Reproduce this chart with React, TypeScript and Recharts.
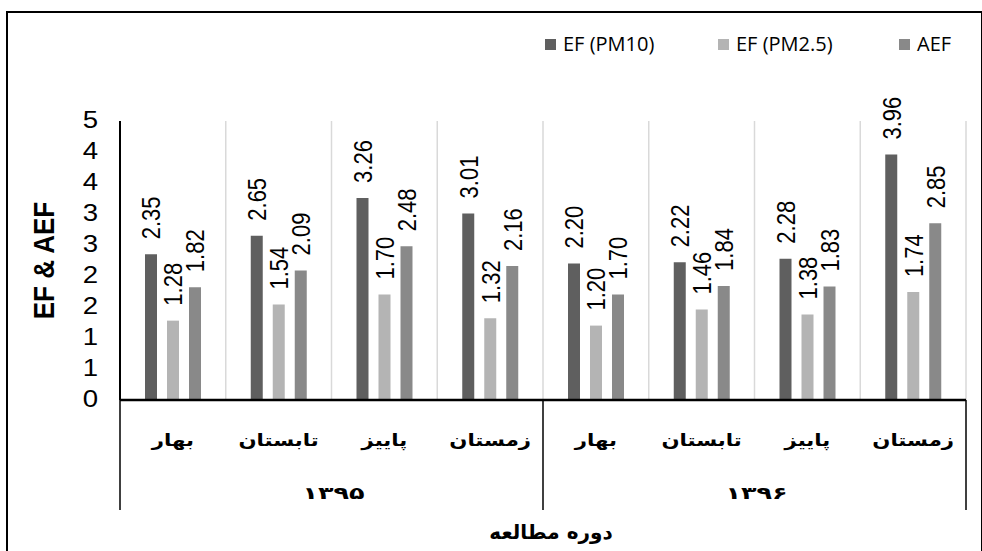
import { Bar, BarChart, CartesianGrid, LabelList, XAxis, YAxis } from "recharts";

const seasons = ["بهار", "تابستان", "پاییز", "زمستان", "بهار", "تابستان", "پاییز", "زمستان"];
const years = ["۱۳۹۵", "۱۳۹۵", "۱۳۹۵", "۱۳۹۵", "۱۳۹۶", "۱۳۹۶", "۱۳۹۶", "۱۳۹۶"];
const efPm10 = [2.35, 2.65, 3.26, 3.01, 2.2, 2.22, 2.28, 3.96];
const efPm25 = [1.28, 1.54, 1.7, 1.32, 1.2, 1.46, 1.38, 1.74];
const aef = [1.82, 2.09, 2.48, 2.16, 1.7, 1.84, 1.83, 2.85];
const yTicks = [0, 0.5, 1, 1.5, 2, 2.5, 3, 3.5, 4, 4.5];

const seriesNames = ["EF (PM10)", "EF (PM2.5)", "AEF"];
const seriesKeys = ["pm10", "pm25", "aef"];
const seriesColors = ["#5f5f5f", "#b4b4b4", "#898989"];

const yTitle = "EF & AEF";
const xTitle = "دوره مطالعه";

const data = seasons.map((s, i) => ({
  season: s,
  year: years[i],
  pm10: efPm10[i],
  pm25: efPm25[i],
  aef: aef[i],
}));

const W = 982;
const H = 551;
const margin = { top: 121, right: 16, bottom: 41, left: 0 };
const yAxisWidth = 120;
const xAxisHeight = 110;
const plotWidth = W - margin.left - margin.right - yAxisWidth;
const band = plotWidth / seasons.length;
const groupSize = 4;

const YTick = (props: any) => {
  const { x, y, payload } = props;
  return (
    <text
      transform={`translate(${x},${y - 1}) scale(1.2,1)`}
      textAnchor="end"
      dy="0.36em"
      fontSize={23}
      fill="#000"
      fontFamily="'Liberation Sans', Arial, sans-serif"
    >
      {Math.round(payload.value)}
    </text>
  );
};

const XTick = (props: any) => {
  const { x, y, payload, index } = props;
  const last = seasons.length - 1;
  return (
    <g>
      <text
        transform={`translate(${x},${y + 40}) scale(1.25,1)`}
        textAnchor="middle"
        dy="0.35em"
        fontSize={17}
        fontWeight="bold"
        fill="#000"
        fontFamily="'DejaVu Sans', sans-serif"
      >
        {payload.value}
      </text>
      {index % groupSize === 0 ? (
        <line x1={x - band / 2} x2={x - band / 2} y1={y} y2={y + xAxisHeight} stroke="#000" strokeWidth={1.5} />
      ) : null}
      {index === last ? (
        <line x1={x + band / 2} x2={x + band / 2} y1={y} y2={y + xAxisHeight} stroke="#000" strokeWidth={1.5} />
      ) : null}
      {index % groupSize === 1 ? (
        <text
          transform={`translate(${x + band / 2 + 2},${y + 93}) scale(1.5,1)`}
          textAnchor="middle"
          dy="0.35em"
          fontSize={17}
          fontWeight="bold"
          fill="#000"
          fontFamily="'DejaVu Sans', sans-serif"
        >
          {years[index]}
        </text>
      ) : null}
    </g>
  );
};

const ValueLabel = (props: any) => {
  const { x, y, width, value } = props;
  return (
    <text
      transform={`translate(${x + width / 2},${y - 15}) scale(1.2,1) rotate(-90)`}
      textAnchor="start"
      dy="0.35em"
      fontSize={22}
      fill="#000"
      fontFamily="'Liberation Sans', Arial, sans-serif"
    >
      {Number(value).toFixed(2)}
    </text>
  );
};

const YTitle = (props: any) => {
  const { viewBox } = props;
  const cx = viewBox.x + 44;
  const cy = viewBox.y + viewBox.height / 2;
  return (
    <text
      transform={`translate(${cx},${cy}) scale(1.1,1) rotate(-90)`}
      textAnchor="middle"
      dy="0.35em"
      fontSize={26}
      fontWeight="bold"
      fill="#000"
      fontFamily="'Liberation Sans', Arial, sans-serif"
    >
      {yTitle}
    </text>
  );
};

export default function App() {
  return (
    <div style={{ position: "absolute", left: 0, top: 0, width: W, height: H, background: "#fff", overflow: "hidden" }}>
      <div
        style={{
          position: "absolute",
          left: 6,
          top: 11,
          width: 973,
          height: 580,
          border: "2px solid #000",
        }}
      />
      <div
        style={{
          position: "absolute",
          top: 30,
          left: 0,
          fontFamily: "'Open Sans', sans-serif",
          fontSize: 20,
          color: "#000",
        }}
      >
        {seriesNames.map((name, i) => (
          <div
            key={name}
            style={{ position: "absolute", left: [545, 718, 899][i], top: 0, display: "flex", alignItems: "center", whiteSpace: "nowrap" }}
          >
            <span style={{ display: "inline-block", width: 11, height: 11, background: seriesColors[i], marginRight: 7 }} />
            <span style={{ lineHeight: "28px" }}>{name}</span>
          </div>
        ))}
      </div>
      <BarChart
        width={W}
        height={H}
        data={data}
        margin={margin}
        barSize={12}
        barGap={10}
        style={{ position: "absolute", left: 0, top: 0 }}
      >
        <CartesianGrid
          horizontal={false}
          stroke="#d9d9d9"
          strokeWidth={1.5}
          verticalCoordinatesGenerator={({ offset }: any) =>
            seasons.map((_, i) => offset.left + (i + 1) * (offset.width / seasons.length))
          }
        />
        <XAxis
          dataKey="season"
          interval={0}
          height={xAxisHeight}
          tickLine={false}
          tickSize={0}
          tickMargin={0}
          axisLine={{ stroke: "#000", strokeWidth: 2.5 }}
          tick={<XTick />}
          label={{
            value: xTitle,
            position: "bottom",
            offset: 15,
            dx: 8,
            fontSize: 20,
            fontWeight: "bold",
            fill: "#000",
            fontFamily: "'DejaVu Sans', sans-serif",
          }}
        />
        <YAxis
          width={yAxisWidth}
          domain={[0, 4.5]}
          ticks={yTicks}
          interval={0}
          tickLine={false}
          tickSize={0}
          tickMargin={22}
          axisLine={{ stroke: "#000", strokeWidth: 2 }}
          tick={<YTick />}
          label={<YTitle />}
        />
        {seriesKeys.map((k, i) => (
          <Bar key={k} dataKey={k} name={seriesNames[i]} fill={seriesColors[i]} isAnimationActive={false}>
            <LabelList dataKey={k} content={<ValueLabel />} />
          </Bar>
        ))}
      </BarChart>
    </div>
  );
}
